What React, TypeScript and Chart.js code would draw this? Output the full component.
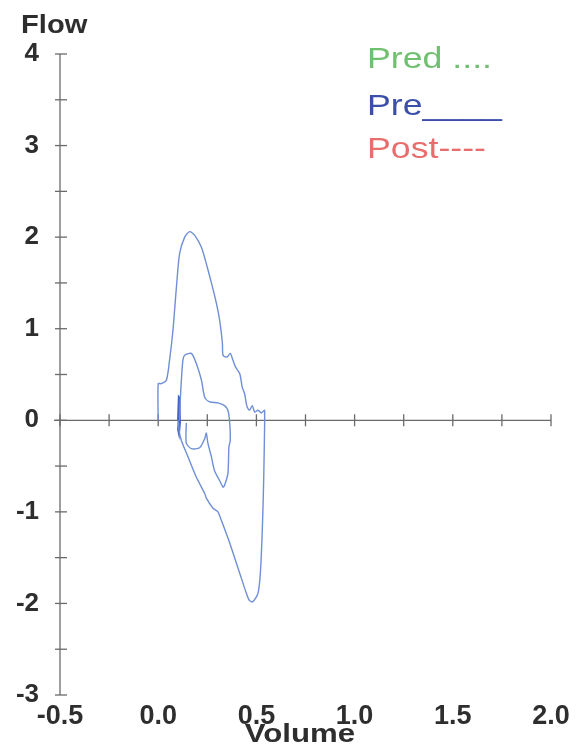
import { useEffect, useRef } from 'react';
import { Chart, registerables } from 'chart.js';

Chart.register(...registerables);

// Axis ranges
const xMin = -0.5;
const xMax = 2.0;
const xStep = 0.25;
const yMin = -3;
const yMax = 4;
const yStep = 0.5;

// Outer (large) flow-volume loop
const outerVolume = [0.0, 0.0, 0.016, 0.042, 0.058, 0.075, 0.093, 0.109, 0.135, 0.16, 0.186, 0.22, 0.245, 0.271, 0.296, 0.313, 0.327, 0.33, 0.35, 0.367, 0.38, 0.394, 0.415, 0.428, 0.44, 0.452, 0.465, 0.479, 0.491, 0.508, 0.525, 0.542, 0.542, 0.542, 0.537, 0.53, 0.52, 0.508, 0.482, 0.465, 0.449, 0.415, 0.364, 0.321, 0.304, 0.279, 0.245, 0.237, 0.194, 0.152, 0.118, 0.106, 0.101];
const outerFlow = [0.0, 0.4, 0.4, 0.44, 0.66, 0.98, 1.46, 1.82, 2.0, 2.06, 2.02, 1.89, 1.71, 1.5, 1.28, 1.09, 0.84, 0.71, 0.69, 0.73, 0.66, 0.58, 0.51, 0.36, 0.29, 0.15, 0.11, 0.16, 0.09, 0.11, 0.08, 0.11, 0.07, -0.03, -0.66, -1.2, -1.67, -1.89, -1.98, -1.97, -1.89, -1.67, -1.34, -1.09, -1.0, -0.96, -0.85, -0.8, -0.62, -0.4, -0.22, -0.11, 0.0];

// Inner (small) loop
const innerVolume = [0.109, 0.113, 0.118, 0.126, 0.135, 0.169, 0.194, 0.22, 0.237, 0.262, 0.304, 0.338, 0.355, 0.364, 0.367, 0.36, 0.355, 0.338, 0.33, 0.313, 0.287, 0.271, 0.253, 0.245, 0.237, 0.211, 0.169, 0.143, 0.143];
const innerFlow = [0.0, 0.25, 0.44, 0.66, 0.71, 0.73, 0.62, 0.44, 0.25, 0.2, 0.19, 0.16, 0.11, -0.03, -0.22, -0.29, -0.58, -0.71, -0.73, -0.66, -0.55, -0.4, -0.25, -0.14, -0.2, -0.3, -0.31, -0.25, -0.03];

// Short artefact spike near the start of expiration
const spikeVolume = [0.1, 0.104, 0.108, 0.112, 0.106, 0.1, 0.11];
const spikeFlow = [0.0, 0.26, 0.25, -0.02, -0.16, -0.1, 0.12];

const legendLabels = ['Pred ....', 'Pre____', 'Post----'];
const legendColors = ['#70c070', '#3c4fa8', '#e86d6d'];
const xTitle = 'Volume';
const yTitle = 'Flow';

const FONT = '"Liberation Sans", Arial, sans-serif';

function toPoints(xs: number[], ys: number[]) {
  return xs.map((v, i) => ({ x: v, y: ys[i] }));
}

function stretchText(ctx: CanvasRenderingContext2D, text: string, x: number, y: number, sx: number) {
  ctx.save();
  ctx.translate(x, y);
  ctx.scale(sx, 1);
  ctx.fillText(text, 0, 0);
  ctx.restore();
}

const axesPlugin = {
  id: 'crossAxes',
  beforeDatasetsDraw(chart: any) {
    const { ctx, scales } = chart;
    const xs = scales.x;
    const ys = scales.y;
    ctx.save();
    ctx.strokeStyle = '#6a6a6a';
    ctx.lineWidth = 1.3;
    const x0 = xs.getPixelForValue(xMin);
    ctx.beginPath();
    ctx.moveTo(x0, ys.getPixelForValue(yMax));
    ctx.lineTo(x0, ys.getPixelForValue(yMin));
    ctx.stroke();
    ys.ticks.forEach((t: any) => {
      const py = ys.getPixelForValue(t.value);
      ctx.beginPath();
      ctx.moveTo(x0 - 5, py);
      ctx.lineTo(x0 + 7, py);
      ctx.stroke();
    });
    const y0 = ys.getPixelForValue(0);
    ctx.beginPath();
    ctx.moveTo(x0 - 6, y0);
    ctx.lineTo(xs.getPixelForValue(xMax), y0);
    ctx.stroke();
    xs.ticks.forEach((t: any) => {
      const px = xs.getPixelForValue(t.value);
      ctx.beginPath();
      ctx.moveTo(px, y0 - 6);
      ctx.lineTo(px, y0 + 6);
      ctx.stroke();
    });
    ctx.restore();
  },
  afterDraw(chart: any) {
    const { ctx } = chart;
    ctx.save();
    ctx.textBaseline = 'alphabetic';
    ctx.fillStyle = '#2e2e2e';
    ctx.font = `bold 26px ${FONT}`;
    ctx.textAlign = 'left';
    stretchText(ctx, yTitle, 21, 33, 1.12);
    ctx.textAlign = 'center';
    stretchText(ctx, xTitle, 300, 742, 1.2);
    ctx.font = `30px ${FONT}`;
    ctx.textAlign = 'left';
    const baselines = [68, 115, 158];
    legendLabels.forEach((lab, i) => {
      ctx.fillStyle = legendColors[i];
      stretchText(ctx, lab, 367, baselines[i], 1.19);
    });
    ctx.restore();
  },
};

export default function App() {
  const canvasRef = useRef<HTMLCanvasElement | null>(null);

  useEffect(() => {
    const canvas = canvasRef.current;
    if (!canvas) return;
    const chart = new Chart(canvas, {
      type: 'scatter',
      data: {
        datasets: [
          {
            label: 'Pre outer',
            data: toPoints(outerVolume, outerFlow),
            showLine: true,
            borderColor: '#6f8fd6',
            borderWidth: 1.4,
            pointRadius: 0,
            tension: 0.25,
          },
          {
            label: 'Pre inner',
            data: toPoints(innerVolume, innerFlow),
            showLine: true,
            borderColor: '#6f8fd6',
            borderWidth: 1.4,
            pointRadius: 0,
            tension: 0.25,
          },
          {
            label: 'Spike',
            data: toPoints(spikeVolume, spikeFlow),
            showLine: true,
            borderColor: '#4463c4',
            borderWidth: 1.6,
            pointRadius: 0,
            tension: 0,
          },
        ],
      },
      options: {
        animation: false,
        responsive: true,
        maintainAspectRatio: false,
        layout: { padding: { left: 0, right: 26, top: 54, bottom: 0 } },
        plugins: {
          legend: { display: false },
          tooltip: { enabled: false },
        },
        scales: {
          x: {
            type: 'linear',
            min: xMin,
            max: xMax,
            grid: { display: false },
            border: { display: false },
            afterFit: (scale: any) => {
              scale.height = 49;
            },
            ticks: {
              stepSize: xStep,
              autoSkip: false,
              maxRotation: 0,
              padding: -3,
              color: '#2e2e2e',
              font: { family: FONT, size: 27, weight: 'bold' },
              callback: (v: any) => {
                const n = Number(v);
                return Math.abs(n * 2 - Math.round(n * 2)) < 1e-6 ? n.toFixed(1) : '';
              },
            },
          },
          y: {
            type: 'linear',
            min: yMin,
            max: yMax,
            grid: { display: false },
            border: { display: false },
            afterFit: (scale: any) => {
              scale.width = 60;
            },
            ticks: {
              stepSize: yStep,
              autoSkip: false,
              padding: 13,
              color: '#2e2e2e',
              font: { family: FONT, size: 26, weight: 'bold' },
              callback: (v: any) => {
                const n = Number(v);
                return Number.isInteger(n) ? String(n) : '';
              },
            },
          },
        },
      },
      plugins: [axesPlugin],
    });
    return () => chart.destroy();
  }, []);

  return (
    <div style={{ position: 'absolute', left: 0, top: 0, width: 577, height: 744, background: '#fff' }}>
      <canvas ref={canvasRef} />
    </div>
  );
}
